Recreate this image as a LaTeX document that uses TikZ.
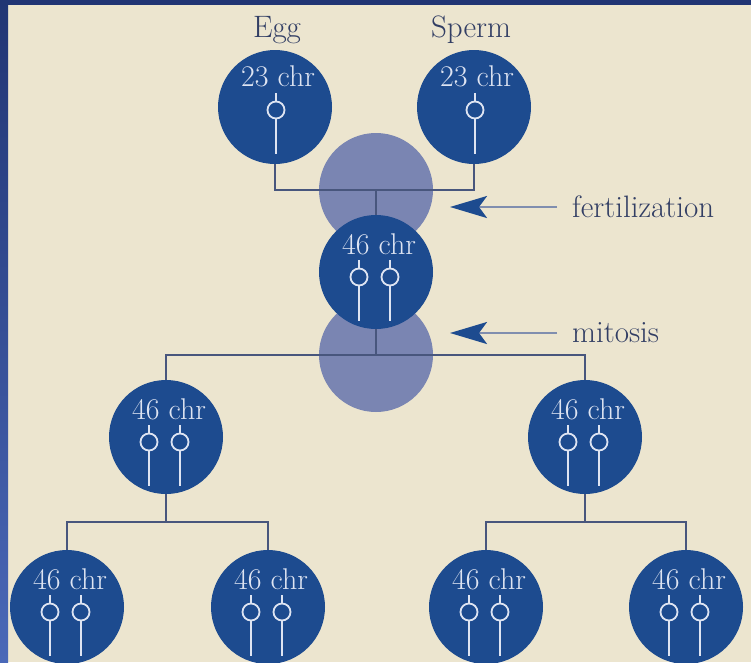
\documentclass[tikz,border=0pt]{standalone}
\usepackage{tikz}
\usetikzlibrary{arrows.meta}

\definecolor{paper}{RGB}{236,229,207}
\definecolor{framedark}{RGB}{33,53,116}
\definecolor{framelight}{RGB}{74,104,184}
\definecolor{cellblue}{RGB}{29,75,143}
\definecolor{haze}{RGB}{122,133,178}
\definecolor{linkcol}{RGB}{72,86,125}
\definecolor{chrwhite}{RGB}{222,228,242}
\definecolor{labtext}{RGB}{50,62,100}
\definecolor{shaftcol}{RGB}{128,142,175}

\pgfdeclarelayer{bottom}
\pgfdeclarelayer{links}
\pgfsetlayers{bottom,links,main}

\tikzset{
  cellnode/.style={circle, fill=cellblue, minimum size=114pt, inner sep=0pt},
  hazenode/.style={circle, fill=haze, minimum size=114pt, inner sep=0pt},
  linkline/.style={draw=linkcol, line width=2.8pt},
  chrline/.style={draw=chrwhite, line width=1.8pt},
  chrtext/.style={text=chrwhite, inner sep=0pt, font=\fontsize{30}{34}\selectfont},
  steplab/.style={text=labtext, inner sep=0pt, font=\fontsize{31}{36}\selectfont},
  steparrow/.style={draw=shaftcol, line width=2.5pt,
    -{Stealth[length=37pt, width=22pt, inset=8pt, color=cellblue]}},
  chrom/.pic={
    \draw[chrline] (0,-17) -- (0,-8.5);
    \draw[chrline] (0,0) circle[radius=8.5pt];
    \draw[chrline] (0,8.5) -- (0,44);
  }
}

\begin{document}
\begin{tikzpicture}[x=1pt, y=-1pt]
% page and frame
\useasboundingbox (0,0) rectangle (751,662);
\clip (0,0) rectangle (751,662);
\begin{pgfonlayer}{bottom}
\fill[paper] (0,0) rectangle (751,662);
\fill[framedark] (0,0) rectangle (751,5);
\shade[top color=framedark, bottom color=framelight] (0,0) rectangle (8,662);
% pale circles behind the joins
\node[hazenode] (fert) at (376,190) {};
\node[hazenode] (mito) at (376,355) {};
\end{pgfonlayer}

% cells
\node[cellnode] (egg)    at (275,107) {};
\node[cellnode] (sperm)  at (474,107) {};
\node[cellnode] (zygote) at (376,272) {};
\node[cellnode] (cellL)  at (166,437) {};
\node[cellnode] (cellR)  at (585,437) {};
\node[cellnode] (cellLL) at (67,607) {};
\node[cellnode] (cellLR) at (268,607) {};
\node[cellnode] (cellRL) at (486,607) {};
\node[cellnode] (cellRR) at (686,607) {};

% split points of the second division
\coordinate (splitL) at (166,522);
\coordinate (splitR) at (585,522);

% connectors, kept under the cells
\begin{pgfonlayer}{links}
\draw[linkline] (egg.south) |- (fert.center) -| (sperm.south);
\draw[linkline] (fert.center) -- (zygote.north);
\draw[linkline] (zygote.south) -- (mito.center);
\draw[linkline] (cellL.north) |- (mito.center) -| (cellR.north);
\draw[linkline] (cellL.south) -- (splitL);
\draw[linkline] (cellLL.north) |- (splitL) -| (cellLR.north);
\draw[linkline] (cellR.south) -- (splitR);
\draw[linkline] (cellRL.north) |- (splitR) -| (cellRR.north);
\end{pgfonlayer}

% haploid cells: one chromosome
\foreach \c in {egg,sperm} {
  \node[chrtext] at ([shift={(3,-31)}]\c.center) {23 chr};
  \pic at ([shift={(1,3)}]\c.center) {chrom};
}

% diploid cells: two chromosomes
\foreach \c in {zygote,cellL,cellR,cellLL,cellLR,cellRL,cellRR} {
  \node[chrtext] at ([shift={(3,-28)}]\c.center) {46 chr};
  \pic at ([shift={(-17,5)}]\c.center) {chrom};
  \pic at ([shift={(14,5)}]\c.center) {chrom};
}

% gamete labels
\node[steplab, anchor=base] (egglab)   at (277,37) {Egg};
\node[steplab, anchor=base] (spermlab) at (471,37) {Sperm};

% step labels with arrows
\node[steplab, anchor=west, inner xsep=15pt] (fertlab) at (557,207) {fertilization};
\node[steplab, anchor=west, inner xsep=15pt] (mitolab) at (557,333) {mitosis};
\coordinate (fertarr) at (450,207);
\coordinate (mitoarr) at (450,333);
\draw[steparrow] (fertlab.west) -- (fertarr);
\draw[steparrow] (mitolab.west) -- (mitoarr);

\end{tikzpicture}
\end{document}
